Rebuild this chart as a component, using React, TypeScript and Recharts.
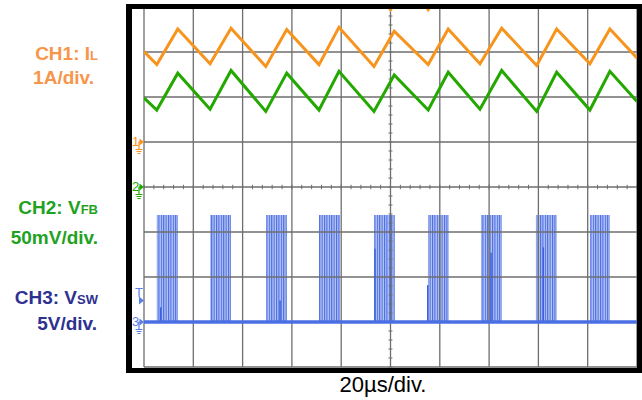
import React from "react";
import {
  LineChart,
  Line,
  XAxis,
  YAxis,
  ReferenceArea,
  ReferenceLine,
  ReferenceDot,
} from "recharts";

// horizontal: µs (20µs/div), vertical: screen divisions (8 div)
const timeTicks = [0, 20, 40, 60, 80, 100, 120, 140, 160, 180, 200];
const divTicks = [-4, -3, -2, -1, 0, 1, 2, 3, 4];

// CH1 (inductor current) and CH2 (feedback voltage) corner points
const rippleTimes = [0, 5.2, 13.7, 26.8, 35.3, 49.4, 57.9, 71.0, 79.1, 93.3, 101.5, 115.3, 123.4, 136.3, 145.1, 159.3, 167.4, 180.9, 189.0, 200];
const ilValues = [3.01, 2.72, 3.51, 2.74, 3.53, 2.68, 3.5, 2.72, 3.55, 2.68, 3.46, 2.72, 3.51, 2.74, 3.53, 2.7, 3.51, 2.74, 3.51, 2.87];
const vfbValues = [1.98, 1.71, 2.53, 1.73, 2.59, 1.68, 2.53, 1.71, 2.57, 1.68, 2.49, 1.71, 2.55, 1.73, 2.59, 1.68, 2.55, 1.71, 2.57, 1.9];

// CH3 (switch node) bursts
const vswBase = -3;
const pulseTop = -0.62;
const burstStart = [5.2, 26.8, 49.5, 71.0, 93.3, 115.2, 136.7, 159.0, 180.9];
const burstEnd = [13.8, 35.3, 58.0, 79.5, 101.8, 123.7, 145.2, 167.5, 189.0];
const spikeTimes = [6.8, 55.2, 93.7, 115.1, 140.8, 162.0];
const spikeTops = [-2.67, -2.52, -1.37, -2.18, -1.46, -1.34];

// trigger markers on the top edge
const triggerTimes = [100, 115.3];

// channel reference markers on the left edge
const markerLevels = [1, 0, -2.5, -3];
const markerLabels = ["1", "2", "T", "3"];

const ORANGE = "#F7941D";
const GREEN = "#23A800";
const BLUE = "#4A6FE3";
const markerColors = [ORANGE, GREEN, "#5B7FE6", "#5B7FE6"];
const GRID = "#6E6E6E";

const ilData = rippleTimes.map((t, i) => ({ t, v: ilValues[i] }));
const vfbData = rippleTimes.map((t, i) => ({ t, v: vfbValues[i] }));
const vswData = [
  { t: timeTicks[0], v: vswBase },
  { t: timeTicks[timeTicks.length - 1], v: vswBase },
];

const minorX = Array.from({ length: 51 }, (_, i) => i * 4);
const minorY = Array.from({ length: 41 }, (_, i) => -4 + i * 0.2);

function ChannelMarker(props: any) {
  const { cx, cy, label, color } = props;
  const x = cx - 12;
  const y = cy;
  if (label === "T") {
    return (
      <g>
        <text x={x + 7} y={y - 3} fontSize={13} fill={color} textAnchor="middle" fontFamily="Liberation Sans, Arial, sans-serif">
          T
        </text>
        <path d={`M${x + 7},${y - 3}L${x + 12},${y + 1}L${x + 7},${y + 5}Z`} fill={color} />
      </g>
    );
  }
  return (
    <g stroke={color} fill="none">
      <text x={x + 3.5} y={y + 4} fontSize={13} fill={color} stroke="none" textAnchor="middle" fontFamily="Liberation Sans, Arial, sans-serif">
        {label}
      </text>
      <path d={`M${x + 7},${y + 7}V${y}H${x + 8}`} strokeWidth={1.2} />
      <path d={`M${x + 7.5},${y - 3.5}L${x + 12},${y}L${x + 7.5},${y + 3.5}Z`} fill={color} stroke="none" />
      <path d={`M${x + 3.5},${y + 7.5}H${x + 10.5}M${x + 4.5},${y + 9.5}H${x + 9.5}M${x + 5.5},${y + 11.5}H${x + 8.5}`} strokeWidth={1} />
    </g>
  );
}

function TriggerMark(props: any) {
  const { cx, cy } = props;
  return <path d={`M${cx - 4},${cy - 3}L${cx + 4},${cy - 3}L${cx},${cy + 3}Z`} fill={ORANGE} />;
}

const labelFont = "Arial, 'Liberation Sans', sans-serif";

function SideLabel({ top, right, color, main, sub }: { top: number; right: number; color: string; main: string; sub?: string }) {
  return (
    <div
      style={{
        position: "absolute",
        top,
        right: 642 - right,
        color,
        fontFamily: labelFont,
        fontWeight: "bold",
        fontSize: 19,
        lineHeight: "22px",
        whiteSpace: "nowrap",
      }}
    >
      {main}
      {sub && <span style={{ fontSize: 13 }}>{sub}</span>}
    </div>
  );
}

export default function App() {
  return (
    <div style={{ position: "absolute", left: 0, top: 0, width: 642, height: 400, background: "#fff", overflow: "hidden" }}>
      <LineChart width={642} height={400} data={ilData} margin={{ top: 7, right: 5, bottom: 33, left: 144 }}>
        <defs>
          <pattern id="burst" width={2.4} height={10} patternUnits="userSpaceOnUse">
            <rect x={0} y={0} width={2.4} height={10} fill="#B9C8F3" />
            <rect x={0} y={0} width={1.1} height={10} fill="#4769E2" />
          </pattern>
        </defs>
        <XAxis dataKey="t" type="number" domain={[0, 200]} hide allowDataOverflow />
        <YAxis type="number" domain={[-4, 4]} hide allowDataOverflow />
        {timeTicks.map((t) => (
          <ReferenceLine key={"gx" + t} x={t} stroke={GRID} strokeWidth={1.3} />
        ))}
        {divTicks.map((v) => (
          <ReferenceLine key={"gy" + v} y={v} stroke={GRID} strokeWidth={1.3} />
        ))}
        {minorX.map((t) => (
          <ReferenceLine key={"mx" + t} segment={[{ x: t, y: -0.05 }, { x: t, y: 0.05 }]} stroke={GRID} strokeWidth={1} />
        ))}
        {minorY.map((v) => (
          <ReferenceLine key={"my" + v.toFixed(1)} segment={[{ x: 99.2, y: v }, { x: 100.8, y: v }]} stroke={GRID} strokeWidth={1} />
        ))}
        {burstStart.map((s, i) => (
          <ReferenceArea key={"b" + i} x1={s} x2={burstEnd[i]} y1={vswBase} y2={pulseTop} fill="url(#burst)" fillOpacity={1} stroke="none" />
        ))}
        {spikeTimes.map((t, i) => (
          <ReferenceLine key={"s" + i} segment={[{ x: t, y: vswBase }, { x: t, y: spikeTops[i] }]} stroke="#3E62DA" strokeWidth={1.5} />
        ))}
        <Line data={vswData} dataKey="v" type="linear" stroke={BLUE} strokeWidth={3.5} dot={false} isAnimationActive={false} />
        <Line data={vfbData} dataKey="v" type="linear" stroke={GREEN} strokeWidth={3} dot={false} isAnimationActive={false} />
        <Line data={ilData} dataKey="v" type="linear" stroke={ORANGE} strokeWidth={3} dot={false} isAnimationActive={false} />
        {triggerTimes.map((t) => (
          <ReferenceDot key={"tr" + t} x={t} y={3.95} r={3} shape={<TriggerMark />} />
        ))}
        {markerLevels.map((v, i) => (
          <ReferenceDot
            key={"mk" + i}
            x={0}
            y={v}
            r={1}
            shape={<ChannelMarker label={markerLabels[i]} color={markerColors[i]} />}
          />
        ))}
      </LineChart>

      {/* scope screen frame */}
      <div
        style={{
          position: "absolute",
          left: 126,
          top: 4,
          width: 516,
          height: 369,
          boxSizing: "border-box",
          borderStyle: "solid",
          borderColor: "#000",
          borderWidth: "5px 5px 5px 6px",
          pointerEvents: "none",
        }}
      />

      <SideLabel top={43} right={98} color="#F7964A" main="CH1: I" sub="L" />
      <SideLabel top={67} right={94} color="#F7964A" main="1A/div." />
      <SideLabel top={197} right={98} color="#1FA21F" main="CH2: V" sub="FB" />
      <SideLabel top={227} right={98} color="#1FA21F" main="50mV/div." />
      <SideLabel top={287} right={98} color="#2E3192" main="CH3: V" sub="SW" />
      <SideLabel top={313} right={97} color="#2E3192" main="5V/div." />

      <div
        style={{
          position: "absolute",
          left: 283,
          width: 200,
          top: 373,
          textAlign: "center",
          fontFamily: labelFont,
          fontSize: 22,
          lineHeight: "24px",
          color: "#000",
        }}
      >
        20µs/div.
      </div>
    </div>
  );
}
